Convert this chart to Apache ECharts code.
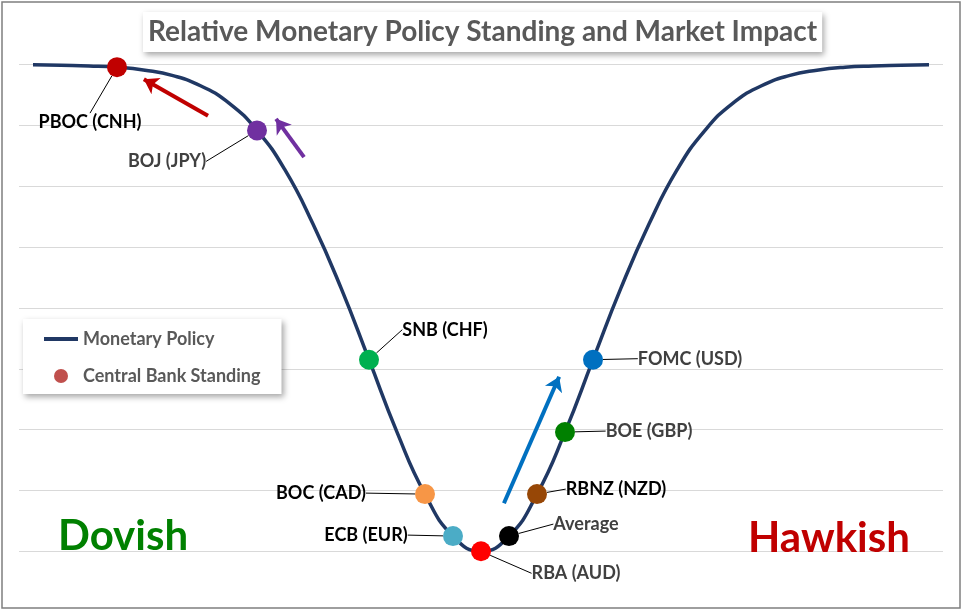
<!DOCTYPE html>
<html>
<head>
<meta charset="utf-8">
<script src="https://cdn.jsdelivr.net/npm/echarts@6/dist/echarts.min.js"></script>
<style>
html, body { margin: 0; padding: 0; background: #fff; }
#chart { width: 963px; height: 612px; }
</style>
</head>
<body>
<div id="chart"></div>
<script>
// policy curve (x = position, y = height above the lowest gridline)
var curveX = [-16, -15, -14, -13, -12, -11, -10, -9, -8, -7, -6, -5, -4, -3, -2, -1, 0,
              1, 2, 3, 4, 5, 6, 7, 8, 9, 10, 11, 12, 13, 14, 15, 16];
var curveY = [8.0, 7.99, 7.98, 7.96, 7.91, 7.82, 7.65, 7.37, 6.92, 6.27, 5.38, 4.33, 3.15, 1.96, 0.94, 0.25, 0,
              0.25, 0.94, 1.96, 3.15, 4.33, 5.38, 6.27, 6.92, 7.37, 7.65, 7.82, 7.91, 7.96, 7.98, 7.99, 8.0];

// central banks sitting on the curve
var banks = ['PBOC (CNH)', 'BOJ (JPY)', 'SNB (CHF)', 'BOC (CAD)', 'ECB (EUR)',
             'RBA (AUD)', 'Average', 'RBNZ (NZD)', 'BOE (GBP)', 'FOMC (USD)'];
var bankX = [-13, -8, -4, -2, -1, 0, 1, 2, 3, 4];
var bankY = [7.96, 6.92, 3.15, 0.94, 0.25, 0, 0.25, 0.94, 1.96, 3.15];

// direction arrows [from, to]
var arrowFrom = [[-9.75, 7.16], [-6.32, 6.48], [0.82, 0.79]];
var arrowTo = [[-12.04, 7.76], [-7.32, 7.11], [2.79, 2.87]];

// styles
var bankColors = ['#C00000', '#7030A0', '#00B050', '#F79646', '#4BACC6',
                  '#FF0000', '#000000', '#974706', '#008000', '#0070C0'];
var labelColors = ['#000', '#404040', '#000', '#000', '#000',
                   '#404040', '#404040', '#000', '#404040', '#404040'];
var labelOffsets = [[-27, 55], [-90, 31], [76, -30], [-104, -1], [-87, -1],
                    [95, 22], [77, -12], [79, -5], [84, -1], [97, -1]];
var arrowColors = ['#C00000', '#7030A0', '#0070C0'];

var FONT = 'Lato';

var chart = echarts.init(document.getElementById('chart'));

var option = {
    animation: false,
    backgroundColor: '#fff',
    title: [{
        text: 'Relative Monetary Policy Standing and Market Impact',
        left: 143,
        top: 12,
        padding: [6, 5, 6, 5],
        backgroundColor: '#fff',
        shadowBlur: 6,
        shadowOffsetX: 2,
        shadowOffsetY: 3,
        shadowColor: 'rgba(0,0,0,0.35)',
        textStyle: {fontFamily: FONT, fontWeight: 'bold', fontSize: 28, color: '#595959'}
    }, {
        text: 'Dovish',
        left: 58,
        top: 515,
        padding: 0,
        textStyle: {fontFamily: FONT, fontWeight: 'bold', fontSize: 42, color: '#008000'}
    }, {
        text: 'Hawkish',
        left: 748,
        top: 517,
        padding: 0,
        textStyle: {fontFamily: FONT, fontWeight: 'bold', fontSize: 42, color: '#C00000'}
    }],
    legend: {
        orient: 'vertical',
        left: 23,
        top: 319,
        padding: [11, 21, 9, 21],
        itemWidth: 34,
        itemHeight: 14,
        itemGap: 19,
        backgroundColor: '#fff',
        shadowBlur: 6,
        shadowOffsetX: 2,
        shadowOffsetY: 3,
        shadowColor: 'rgba(0,0,0,0.35)',
        data: [
            {name: 'Monetary Policy', icon: 'path://M0,0L34,0L34,4L0,4Z'},
            {name: 'Central Bank Standing', icon: 'circle'}
        ],
        textStyle: {fontFamily: FONT, fontWeight: 'bold', fontSize: 18, color: '#595959'}
    },
    grid: {left: 19, right: 20, top: 64.7, bottom: 60.7},
    xAxis: {
        type: 'value', min: -16.5, max: 16.5,
        show: false
    },
    yAxis: {
        type: 'value', min: 0, max: 8, interval: 1,
        axisLine: {show: false},
        axisTick: {show: false},
        axisLabel: {show: false},
        splitLine: {lineStyle: {color: '#D9D9D9', width: 1}}
    },
    graphic: [{
        type: 'rect',
        shape: {x: 2, y: 2, width: 958, height: 606},
        style: {fill: null, stroke: '#7F7F7F', lineWidth: 1.5},
        silent: true
    }],
    series: [{
        name: 'Monetary Policy',
        type: 'line',
        data: curveX.map(function (x, i) { return [x, curveY[i]]; }),
        smooth: 0.5,
        showSymbol: false,
        symbol: 'none',
        clip: false,
        z: 2,
        lineStyle: {color: '#203864', width: 3.5},
        itemStyle: {color: '#203864'}
    }, {
        type: 'lines',
        coordinateSystem: 'cartesian2d',
        symbol: ['none', 'arrow'],
        symbolSize: 14,
        z: 3,
        data: arrowFrom.map(function (p, i) {
            return {coords: [p, arrowTo[i]], lineStyle: {color: arrowColors[i], width: 4, opacity: 1}};
        })
    }, {
        name: 'Central Bank Standing',
        type: 'scatter',
        symbolSize: 20,
        clip: false,
        z: 4,
        itemStyle: {color: '#C0504D', opacity: 1},
        data: banks.map(function (b, i) {
            return {
                name: b,
                value: [bankX[i], bankY[i]],
                itemStyle: {color: bankColors[i], opacity: 1},
                label: {color: labelColors[i]}
            };
        }),
        label: {
            show: true,
            position: 'inside',
            formatter: '{b}',
            fontFamily: FONT,
            fontWeight: 'bold',
            fontSize: 18
        },
        labelLine: {show: true, lineStyle: {color: '#000', width: 1}},
        labelLayout: function (params) {
            var o = labelOffsets[params.dataIndex];
            return {dx: o[0], dy: o[1]};
        }
    }]
};

chart.setOption(option);
</script>
</body>
</html>
